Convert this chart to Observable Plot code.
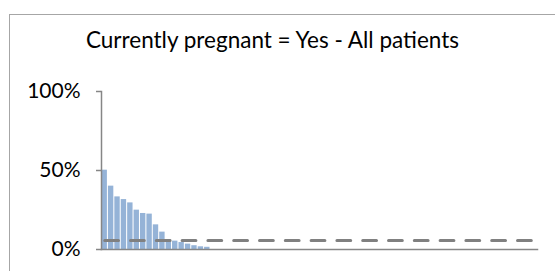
<!DOCTYPE html>
<html>
<head>
<meta charset="utf-8">
<script src="https://cdn.jsdelivr.net/npm/d3@7"></script>
<script src="https://cdn.jsdelivr.net/npm/@observablehq/plot@0.6"></script>
<style>
  html, body { margin: 0; padding: 0; background: #fff; }
  #wrap { position: relative; width: 555px; height: 271px; overflow: hidden; font-family: Lato, "Open Sans", sans-serif; }
  #border { position: absolute; left: 9px; top: 14px; width: 600px; height: 300px; border-left: 1px solid #a6a6a6; border-top: 1px solid #a6a6a6; }
  #title { position: absolute; left: 0; width: 545px; top: 29px; text-align: center; font-size: 22.5px; color: #000; line-height: 1; }
  #chart { position: absolute; left: 0; top: 0; }
</style>
</head>
<body>
<div id="wrap">
  <div id="border"></div>
  <div id="chart"></div>
  <div id="title"></div>
</div>
<script>
const title = "Currently pregnant = Yes - All patients";
const categories = [
  1,2,3,4,5,6,7,8,9,10,11,12,13,14,15,16,17,18,19,20,
  21,22,23,24,25,26,27,28,29,30,31,32,33,34,35,36,37,38,39,40,
  41,42,43,44,45,46,47,48,49,50,51,52,53,54,55,56,57,58,59,60,
  61,62,63,64,65,66,67,68
];
const values = [
  0.502,0.401,0.333,0.316,0.295,0.249,0.228,0.224,0.156,0.110,
  0.062,0.053,0.044,0.034,0.024,0.017,0.014,0,0,0,
  0,0,0,0,0,0,0,0,0,0,
  0,0,0,0,0,0,0,0,0,0,
  0,0,0,0,0,0,0,0,0,0,
  0,0,0,0,0,0,0,0,0,0,
  0,0,0,0,0,0,0,0
];
const referenceValue = 0.057;
const yTicks = [0, 0.5, 1];

document.getElementById("title").textContent = title;

const data = categories.map((c, i) => ({cat: c, value: values[i]}));

const chart = Plot.plot({
  width: 555,
  height: 271,
  marginLeft: 101,
  marginRight: 18,
  marginTop: 91,
  marginBottom: 22,
  style: {background: "transparent", fontFamily: "Lato, 'Open Sans', sans-serif", fontSize: "21px", color: "#000"},
  x: {type: "band", domain: categories, paddingInner: 0.16, paddingOuter: 0.08, round: false, axis: null},
  y: {domain: [0, 1], ticks: yTicks, tickFormat: d3.format(".0%"), label: null},
  marks: [
    Plot.barY(data, {x: "cat", y: "value", fill: "#95b3d7"}),
    Plot.lineY(categories, {x: d => d, y: () => referenceValue, stroke: "#808080", strokeWidth: 3, strokeDasharray: "13.8,12"}),
    Plot.axisY({ticks: yTicks, tickFormat: d3.format(".0%"), tickSize: 5, tickPadding: 16, stroke: "#868686", strokeWidth: 1.5, fill: "#000", fontSize: 21, label: null}),
    Plot.frame({anchor: "left", stroke: "#868686", strokeWidth: 1.5}),
    Plot.frame({anchor: "bottom", stroke: "#868686", strokeWidth: 1.5})
  ]
});
document.getElementById("chart").appendChild(chart);
</script>
</body>
</html>
